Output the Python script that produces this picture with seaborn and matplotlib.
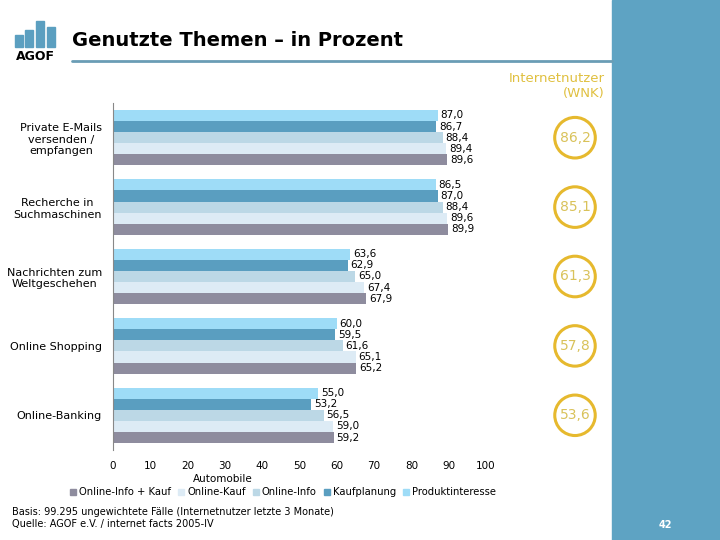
import pandas as pd
import matplotlib.pyplot as plt
import seaborn as sns
from matplotlib.patches import Rectangle
from matplotlib.lines import Line2D
from matplotlib.transforms import blended_transform_factory

# --- Daten ---
themen = ["Private E-Mails\nversenden /\nempfangen", "Recherche in\nSuchmaschinen",
          "Nachrichten zum\nWeltgeschehen", "Online Shopping", "Online-Banking"]
serien = ["Produktinteresse", "Kaufplanung", "Online-Info", "Online-Kauf", "Online-Info + Kauf"]
produktinteresse = [87.0, 86.5, 63.6, 60.0, 55.0]
kaufplanung = [86.7, 87.0, 62.9, 59.5, 53.2]
online_info = [88.4, 88.4, 65.0, 61.6, 56.5]
online_kauf = [89.4, 89.6, 67.4, 65.1, 59.0]
online_info_kauf = [89.6, 89.9, 67.9, 65.2, 59.2]
internetnutzer = [86.2, 85.1, 61.3, 57.8, 53.6]
x_ticks = list(range(0, 101, 10))

farben = ["#9EDCF7", "#5A9EC0", "#BCD8E6", "#DDEBF5", "#8E8C9E"]

werte = [produktinteresse, kaufplanung, online_info, online_kauf, online_info_kauf]
df = pd.DataFrame([
    {"Thema": t, "Serie": s, "Wert": v}
    for s, vals in zip(serien, werte)
    for t, v in zip(themen, vals)
])

sns.set_style("white")
plt.rcParams["font.family"] = ["DejaVu Sans"]
plt.rcParams["text.color"] = "black"
plt.rcParams["xtick.color"] = "black"
plt.rcParams["ytick.color"] = "black"

fig = plt.figure(figsize=(7.2, 5.4), dpi=100)
ax = fig.add_axes([113 / 720, 1 - 450 / 540, 373 / 720, 347 / 540])

sns.barplot(data=df, y="Thema", x="Wert", hue="Serie", order=themen, hue_order=serien,
            palette=farben, orient="h", width=0.8, saturation=1, linewidth=0,
            ax=ax, legend=False)

for cont in ax.containers:
    ax.bar_label(cont, labels=[f"{b.get_width():.1f}".replace(".", ",") for b in cont],
                 padding=2, fontsize=7.5, color="black")

ax.set_xlim(0, 100)
ax.set_xticks(x_ticks)
ax.tick_params(axis="x", length=0, labelsize=7.5, pad=8)
ax.tick_params(axis="y", which="major", length=0, labelsize=8, pad=8)
ax.set_yticks([i - 0.5 for i in range(6)], minor=True)
ax.tick_params(axis="y", which="minor", length=4, color="#888888", direction="out")
ax.set_yticklabels(themen, multialignment="center")
ax.set_xlabel("")
ax.set_ylabel("")
for s in ["top", "right", "bottom"]:
    ax.spines[s].set_visible(False)
ax.spines["left"].set_color("#888888")

fig.text(223 / 720, 1 - 479 / 540, "Automobile", fontsize=7.5, ha="center", va="center")

handles = [Line2D([], [], marker="s", linestyle="", color=c, markersize=5) for c in farben]
fig.legend(handles[::-1], serien[::-1], loc="center", bbox_to_anchor=(282 / 720, 1 - 492 / 540),
           ncol=5, frameon=False, fontsize=7.2, handletextpad=0.1, columnspacing=0.5,
           handlelength=1.0, borderaxespad=0, borderpad=0)

# Kreise Internetnutzer
trans = blended_transform_factory(fig.transFigure, ax.transData)
for i, v in enumerate(internetnutzer):
    ax.text(575 / 720, i, f"{v:.1f}".replace(".", ","), transform=trans, ha="center", va="center",
            fontsize=10, color="#D9C25A",
            bbox=dict(boxstyle="circle,pad=0.35", fc="white", ec="#E6B92E", lw=2.2))
fig.text(605 / 720, 1 - 86 / 540, "Internetnutzer\n(WNK)", ha="right", va="center",
         fontsize=9.5, color="#E0C040", linespacing=1.3)

# Kopfbereich
fig.text(72 / 720, 1 - 40 / 540, "Genutzte Themen \u2013 in Prozent", fontsize=14,
         fontweight="bold", va="center")
fig.add_artist(Line2D([72 / 720, 612 / 720], [1 - 61 / 540] * 2, color="#6A9DB5", lw=2,
                      transform=fig.transFigure))
for x0, h in [(15, 12), (25, 17), (36, 26), (47, 20)]:
    fig.add_artist(Rectangle((x0 / 720, 1 - 47 / 540), 8 / 720, h / 540,
                             color="#5B9FC0", transform=fig.transFigure))
fig.text(35 / 720, 1 - 56 / 540, "AGOF", fontsize=9, fontweight="bold", ha="center", va="center")

# rechte Leiste
fig.add_artist(Rectangle((612 / 720, 0), 108 / 720, 1, color="#5EA3C3",
                         transform=fig.transFigure, zorder=0))
fig.text(665 / 720, 1 - 525 / 540, "42", color="white", fontsize=7, fontweight="bold",
         ha="center", va="center")

# Fußnote
fig.text(12 / 720, 1 - 512 / 540, "Basis: 99.295 ungewichtete Fälle (Internetnutzer letzte 3 Monate)",
         fontsize=7, va="center")
fig.text(12 / 720, 1 - 524 / 540, "Quelle: AGOF e.V. / internet facts 2005-IV",
         fontsize=7, va="center")

fig.savefig("out.png", dpi=100)
